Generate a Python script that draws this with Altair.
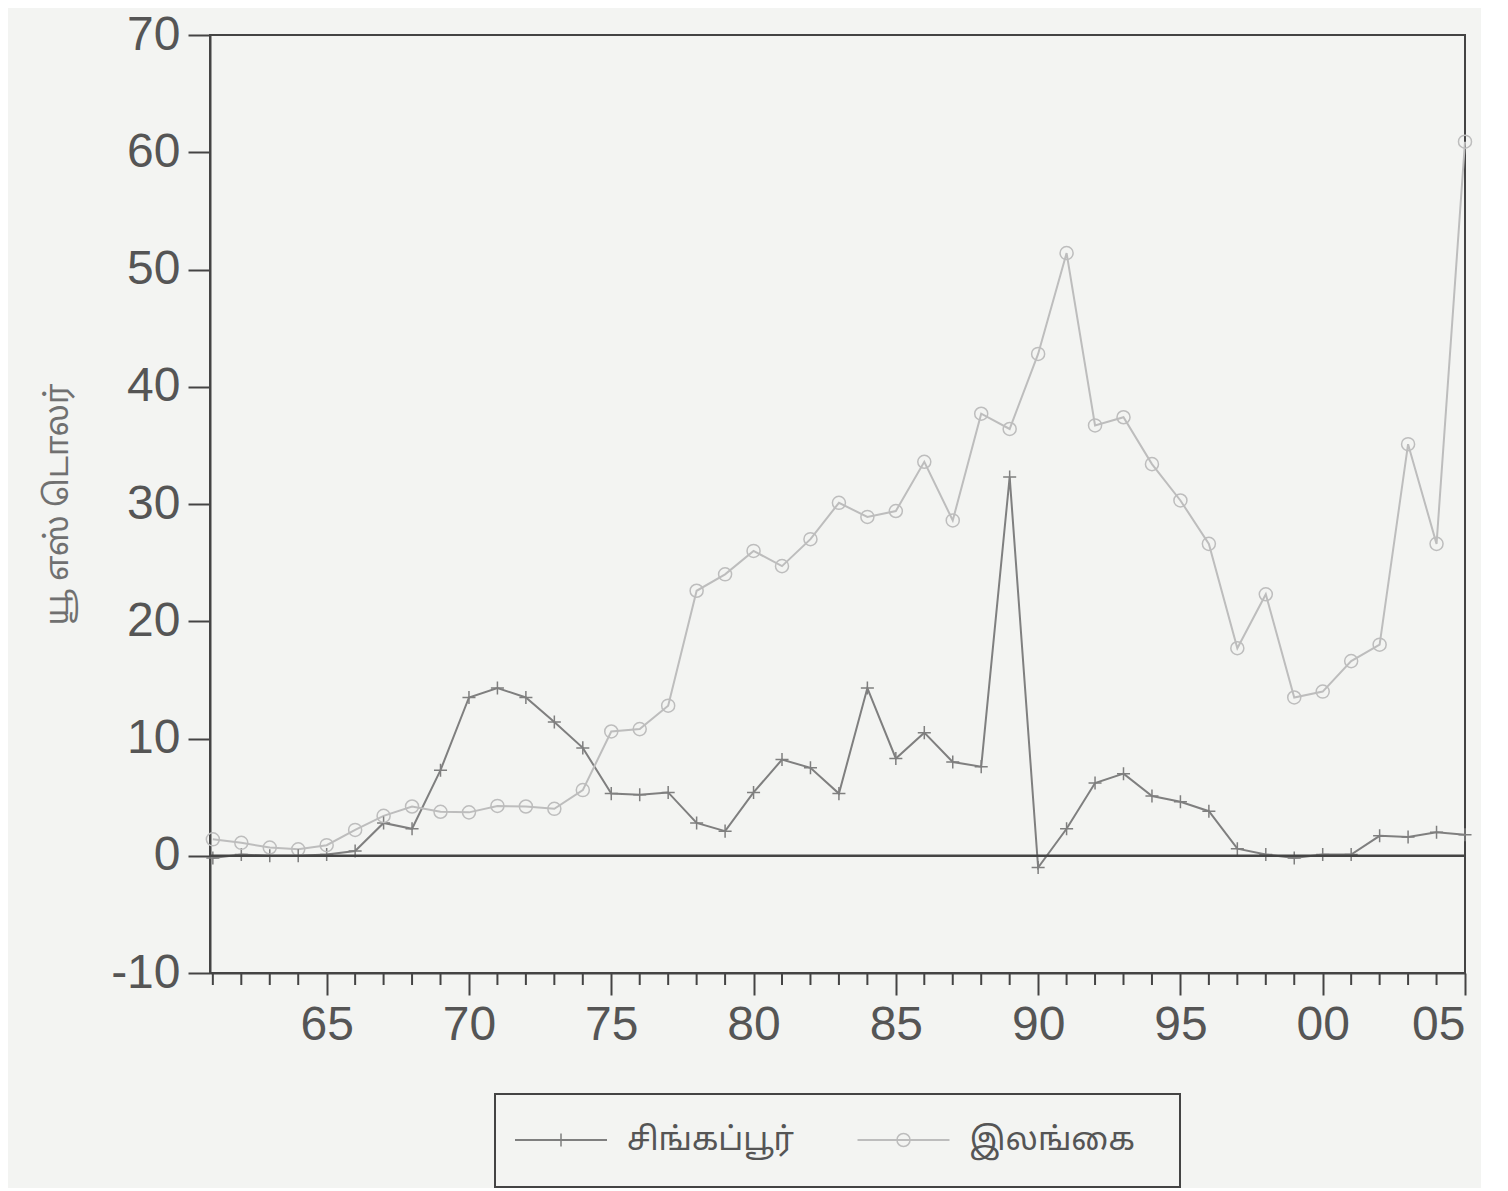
import altair as alt
import pandas as pd

years = list(range(1961, 2006))
singapore = [-0.2, 0.1, 0.0, 0.0, 0.1, 0.4, 2.8, 2.3, 7.3, 13.5,
             14.3, 13.5, 11.4, 9.2, 5.3, 5.2, 5.4, 2.8, 2.1, 5.4,
             8.2, 7.5, 5.3, 14.3, 8.3, 10.5, 8.0, 7.6, 32.3, -1.0,
             2.3, 6.2, 7.0, 5.1, 4.6, 3.8, 0.6, 0.1, -0.2, 0.1,
             0.1, 1.7, 1.6, 2.0, 1.8]
srilanka = [1.4, 1.1, 0.7, 0.55, 0.9, 2.2, 3.4, 4.2, 3.75, 3.7,
            4.25, 4.2, 4.0, 5.6, 10.6, 10.8, 12.8, 22.6, 24.0, 26.0,
            24.7, 27.0, 30.1, 28.9, 29.4, 33.6, 28.6, 37.7, 36.4, 42.8,
            51.4, 36.7, 37.4, 33.4, 30.3, 26.6, 17.7, 22.3, 13.5, 14.0,
            16.6, 18.0, 35.1, 26.6, 60.9]
series_names = ["சிங்கப்பூர்", "இலங்கை"]
series_colors = ["#7f7f7f", "#bdbdbd"]
plus_path = "M-1,0L1,0M0,-1L0,1"
series_shapes = [plus_path, "circle"]
y_ticks = [-10, 0, 10, 20, 30, 40, 50, 60, 70]
major_years = [1965, 1970, 1975, 1980, 1985, 1990, 1995, 2000, 2005]
minor_years = [1961, 1962, 1963, 1964, 1966, 1967, 1968, 1969, 1971, 1972, 1973, 1974,
               1976, 1977, 1978, 1979, 1981, 1982, 1983, 1984, 1986, 1987, 1988, 1989,
               1991, 1992, 1993, 1994, 1996, 1997, 1998, 1999, 2001, 2002, 2003, 2004]
y_title = "யூ எஸ் டொலர்"

tamil_font = "Noto Sans Tamil, Lohit Tamil, Noto Sans, sans-serif"
num_font = "Liberation Sans, Arial, sans-serif"
ink = "#444444"

df = pd.DataFrame({
    "year": years * 2,
    "value": singapore + srilanka,
    "series": [series_names[0]] * len(years) + [series_names[1]] * len(years),
})
zero_df = pd.DataFrame({"y": [0]})
minor_df = pd.DataFrame({"year": minor_years})

color = alt.Color("series:N", scale=alt.Scale(domain=series_names, range=series_colors), legend=None)
shape = alt.Shape("series:N", scale=alt.Scale(domain=series_names, range=series_shapes), legend=None)

x_enc = alt.X(
    "year:Q",
    scale=alt.Scale(domain=[1960.9, 2005], nice=False, zero=False),
    axis=alt.Axis(
        values=major_years, title=None, grid=False,
        labelExpr="slice(format(datum.value, 'd'), 2)",
        tickSize=22, labelPadding=6, labelFontSize=48, labelFont=num_font,
        labelColor="#555555", labelOverlap=False,
    ),
)
y_enc = alt.Y(
    "value:Q",
    scale=alt.Scale(domain=[-10, 70], nice=False, zero=False),
    axis=alt.Axis(
        values=y_ticks, grid=False, tickSize=22, labelPadding=8,
        labelExpr="datum.value < 0 ? '-' + abs(datum.value) : '' + datum.value",
        labelFontSize=48, labelFont=num_font, labelColor="#555555",
        title=y_title, titleFont=tamil_font, titleFontSize=32, titleFontWeight="normal",
        titleColor="#707070", titlePadding=36,
    ),
)

lines = alt.Chart(df).mark_line(strokeWidth=2).encode(
    x=x_enc, y=y_enc, color=color, detail="series:N"
)
points = alt.Chart(df).mark_point(filled=False, size=170, strokeWidth=1.5, opacity=1).encode(
    x="year:Q", y="value:Q", color=color, shape=shape
)
zero_rule = alt.Chart(zero_df).mark_rule(color=ink, strokeWidth=2.5).encode(y="y:Q")
minor_ticks = alt.Chart(minor_df).mark_rule(color=ink, strokeWidth=2, y2Offset=12).encode(
    x="year:Q", y=alt.datum(-10), y2=alt.datum(-10)
)

main = alt.layer(lines, points, zero_rule, minor_ticks).properties(width=1255, height=938)

leg_df = pd.DataFrame({"series": series_names, "idx": [0, 1]})
leg_x = alt.X("idx:Q", scale=alt.Scale(domain=[0, 2], nice=False, zero=False), axis=None)
leg_rule = alt.Chart(leg_df).mark_rule(strokeWidth=2, xOffset=20, x2Offset=112).encode(
    x=leg_x, x2="idx:Q", y=alt.value(46), color=color
)
leg_pts = alt.Chart(leg_df).mark_point(filled=False, size=170, strokeWidth=1.5, xOffset=66, opacity=1).encode(
    x=leg_x, y=alt.value(46), color=color, shape=shape
)
leg_txt = alt.Chart(leg_df).mark_text(
    align="left", baseline="middle", dx=132, fontSize=32, font=tamil_font, color="#555555"
).encode(x=leg_x, y=alt.value(46), text="series:N")
legend = alt.layer(leg_rule, leg_pts, leg_txt).properties(width=685, height=93)

chart = alt.vconcat(main, legend, spacing=121, center=True, bounds="flush").configure(
    background="#f3f4f2",
    padding={"left": 32, "top": 2, "right": 5, "bottom": 0},
).configure_view(
    stroke=ink, strokeWidth=2
).configure_axis(
    domainColor=ink, domainWidth=2, tickColor=ink, tickWidth=2
)

chart.save("out.html", embed_options={"renderer": "svg", "actions": False})
